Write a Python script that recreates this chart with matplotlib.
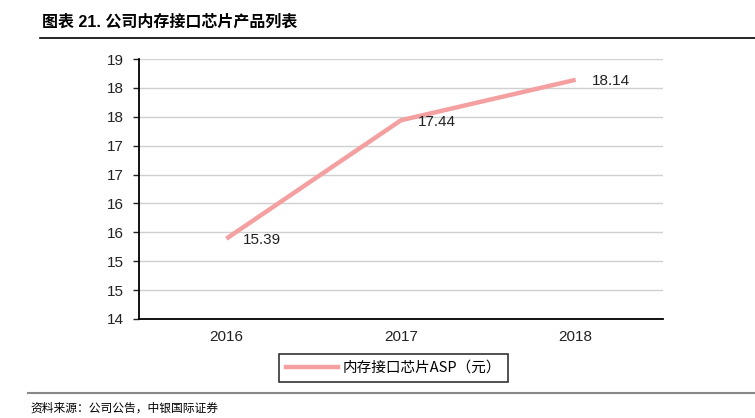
import matplotlib
matplotlib.use("Agg")
import matplotlib.pyplot as plt
from matplotlib.lines import Line2D
from matplotlib.ticker import FuncFormatter, MultipleLocator

num_font = ['Liberation Sans Narrow', 'Liberation Sans', 'Noto Sans CJK SC', 'DejaVu Sans']
plt.rcParams['font.family'] = num_font

years = ["2016", "2017", "2018"]
asp = [15.39, 17.44, 18.14]
series_name = "内存接口芯片ASP（元）"
title = "图表 21. 公司内存接口芯片产品列表"
source = "资料来源：公司公告，中银国际证券"

line_color = "#F4A0A0"

fig = plt.figure(figsize=(7.55, 4.18), dpi=100)
ax = fig.add_axes([139/755, 1-319/418, (663-139)/755, (319-59)/418])

x = list(range(len(years)))
ax.plot(x, asp, color=line_color, lw=3.2, solid_capstyle='butt', zorder=3)
for xi, v in zip(x, asp):
    ax.annotate(f"{v:.2f}", (xi, v), xytext=(12, -1), textcoords='offset points',
                ha='left', va='center', fontsize=11, color='#222222')

ax.set_xlim(-0.5, 2.5)
ax.set_ylim(14, 18.5)
ax.yaxis.set_major_locator(MultipleLocator(0.5))
ax.yaxis.set_major_formatter(FuncFormatter(lambda v, p: f"{int(v + 0.5)}"))
ax.set_xticks(x)
ax.set_xticklabels(years)
ax.tick_params(axis='x', length=0, pad=8, labelsize=11, colors='#222222')
ax.tick_params(axis='y', length=4, width=1, direction='out', pad=7, labelsize=11, colors='#222222')
ax.grid(axis='y', color='#D0D0D0', lw=1)
ax.set_axisbelow(True)
for s in ['top', 'right']:
    ax.spines[s].set_visible(False)
ax.spines['left'].set_linewidth(1.3)
ax.spines['bottom'].set_linewidth(1.3)
ax.spines['left'].set_color('black')
ax.spines['bottom'].set_color('black')

handle = Line2D([0], [0], color=line_color, lw=3.2)
leg = fig.legend([handle], [series_name], loc='center', bbox_to_anchor=(393.5/755, 1-368/418),
                 frameon=True, fancybox=False, edgecolor='black', handlelength=3.6,
                 prop={'family': ['Noto Sans CJK SC'], 'size': 10.5},
                 borderpad=0.45, handletextpad=0.3)
leg.get_frame().set_linewidth(1.2)
leg.get_frame().set_boxstyle('square', pad=0)
fig.canvas.draw()
# widen frame to match reference box horizontally
bb = leg.get_window_extent()
frame = leg.get_frame()

fig.text(42/755, 1-22/418, title, ha='left', va='center', fontsize=11.5, fontweight='bold',
         family=['Liberation Sans', 'Noto Sans CJK SC'])
fig.add_artist(Line2D([40/755, 1], [1-38/418, 1-38/418], color='black', lw=1.2))
fig.add_artist(Line2D([28/755, 1], [1-393/418, 1-393/418], color='#888888', lw=1.5))
fig.text(30/755, 1-408/418, source, ha='left', va='center', fontsize=8.5, style='italic',
         family=['Noto Sans CJK SC'])

fig.savefig("out.png", dpi=100)
